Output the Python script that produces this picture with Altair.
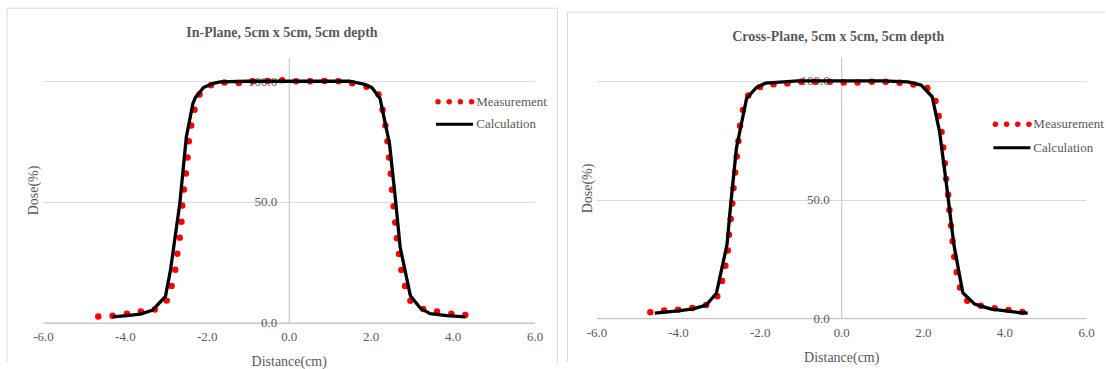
import altair as alt
import pandas as pd

FONT = "Liberation Serif"
GRAY = "#595959"

# ---------------- data ----------------
in_meas_x = [-4.65, -4.30, -3.95, -3.61, -3.27, -2.98, -2.86, -2.77, -2.72, -2.66, -2.62, -2.60,
             -2.56, -2.51, -2.47, -2.44, -2.38, -2.30, -2.18, -1.90, -1.57, -1.22, -0.88, -0.51,
             -0.16, 0.18, 0.52, 0.87, 1.21, 1.55, 1.90, 2.19, 2.29, 2.36, 2.41, 2.45, 2.49, 2.52,
             2.56, 2.60, 2.64, 2.69, 2.75, 2.84, 2.97, 3.28, 3.62, 3.97, 4.31]
in_meas_y = [2.5, 2.8, 3.7, 4.6, 5.4, 9.1, 15.2, 21.9, 28.5, 35.2, 41.8, 48.5,
             55.1, 61.8, 68.4, 75.1, 81.7, 88.2, 94.5, 98.3, 99.5, 99.3, 100.0, 100.1,
             100.4, 100.0, 100.0, 100.1, 100.0, 99.2, 97.7, 94.5, 88.2, 81.7, 75.1, 68.4, 61.7, 55.0,
             48.2, 41.5, 34.9, 28.4, 21.8, 15.2, 9.0, 5.6, 4.6, 3.7, 3.1]
in_calc_x = [-4.30, -3.95, -3.62, -3.33, -3.01, -2.89, -2.66, -2.50, -2.34, -2.28, -2.08, -1.87,
             -1.67, -1.00, 0.00, 1.00, 1.50, 1.83, 2.03, 2.23, 2.46, 2.60, 2.72, 2.97, 3.21,
             3.45, 3.86, 4.31]
in_calc_y = [2.4, 2.9, 3.5, 5.1, 10.8, 21.4, 49.2, 76.9, 90.7, 93.2, 97.4, 99.0,
             99.7, 100.0, 100.0, 100.0, 100.0, 98.8, 97.4, 92.8, 74.1, 51.9, 31.2, 11.1, 6.0,
             3.7, 2.9, 2.4]

cross_meas_x = [-4.68, -4.34, -4.00, -3.65, -3.31, -3.04, -2.92, -2.84, -2.78, -2.75, -2.71, -2.67,
                -2.64, -2.60, -2.56, -2.52, -2.48, -2.41, -2.28, -1.99, -1.66, -1.32, -0.98, -0.64,
                -0.28, 0.06, 0.40, 0.75, 1.09, 1.43, 1.77, 2.11, 2.31, 2.39, 2.46, 2.50, 2.54, 2.57,
                2.62, 2.65, 2.69, 2.73, 2.77, 2.83, 2.91, 3.09, 3.42, 3.76, 4.10, 4.44]
cross_meas_y = [2.5, 3.2, 3.6, 4.3, 5.6, 9.2, 15.7, 22.1, 28.5, 35.2, 41.8, 48.3,
                54.8, 61.4, 68.1, 74.7, 81.1, 87.7, 93.8, 97.4, 98.6, 98.9, 99.6, 99.6,
                99.6, 99.3, 99.3, 99.6, 99.6, 99.2, 98.5, 97.0, 91.5, 85.2, 78.5, 71.9, 65.3, 58.7,
                52.0, 45.6, 39.0, 32.4, 25.9, 19.4, 12.9, 7.3, 5.2, 4.2, 3.5, 2.6]
cross_calc_x = [-4.57, -4.00, -3.63, -3.31, -3.06, -2.80, -2.71, -2.57, -2.32, -2.08, -1.86,
                -1.06, 0.00, 1.00, 1.63, 1.80, 1.96, 2.23, 2.41, 2.57, 2.76, 2.98, 3.27, 3.68,
                4.33, 4.57]
cross_calc_y = [2.1, 3.1, 3.9, 5.5, 10.5, 31.0, 47.8, 71.6, 92.6, 97.2, 99.0,
                100.0, 100.0, 100.0, 99.6, 98.9, 98.2, 93.3, 78.6, 57.6, 31.1, 10.7, 5.9, 3.8,
                2.4, 2.1]

x_ticks = [-6, -4, -2, 0, 2, 4, 6]
y_ticks = [0, 50, 100]
series_names = ["Measurement", "Calculation"]


def panel(title, mx, my, cx, cy, W, H, g):
    dummy = pd.DataFrame({"k": [0]})
    xs = alt.Scale(domain=[-6, 6], nice=False, zero=False)
    ys = alt.Scale(domain=[0, 110], nice=False, zero=True)
    xaxis = alt.Axis(
        values=x_ticks,
        labelExpr="(datum.value < 0 ? '-' : '') + format(abs(datum.value), '.1f')",
        grid=False, ticks=False, domainColor="#bfbfbf", domainWidth=1,
        labelFont=FONT, labelFontSize=13, labelColor=GRAY, labelPadding=8, labelFlush=False,
        title="Distance(cm)", titleFont=FONT, titleFontSize=14, titleFontWeight="normal",
        titleColor=GRAY, titleX=W / 2, titleY=g["xtitle_y"], titleBaseline="middle",
        titleAlign="center",
    )
    yaxis = alt.Axis(
        values=y_ticks, labelExpr="format(datum.value, '.1f')",
        grid=True, gridColor="#d9d9d9", gridWidth=1, ticks=False,
        domainColor="#bfbfbf", domainWidth=1, offset=-W / 2,
        labelFont=FONT, labelFontSize=13, labelColor=GRAY, labelPadding=12, labelFlush=False,
        title="Dose(%)", titleFont=FONT, titleFontSize=14, titleFontWeight="normal",
        titleColor=GRAY, titleX=g["ytitle_x"], titleY=g["ytitle_y"], titleAngle=270,
        titleBaseline="middle", titleAlign="center",
    )
    ex = alt.X("x:Q", scale=xs, axis=xaxis)
    ey = alt.Y("y:Q", scale=ys, axis=yaxis)

    layers = []
    # frame of the panel
    fx1, fx2, fy1, fy2 = g["frame"]
    layers.append(alt.Chart(dummy).mark_rule(color="#d9d9d9", strokeWidth=1).encode(
        x=alt.value(fx1), x2=alt.value(fx2), y=alt.value(fy1), y2=alt.value(fy1)))
    layers.append(alt.Chart(dummy).mark_rule(color="#d9d9d9", strokeWidth=1).encode(
        x=alt.value(fx1), x2=alt.value(fx1), y=alt.value(fy1), y2=alt.value(fy2)))
    if g.get("frame_right", True):
        layers.append(alt.Chart(dummy).mark_rule(color="#d9d9d9", strokeWidth=1).encode(
            x=alt.value(fx2), x2=alt.value(fx2), y=alt.value(fy1), y2=alt.value(fy2)))

    meas = pd.DataFrame({"x": mx, "y": my})
    calc = pd.DataFrame({"x": cx, "y": cy})
    layers.append(alt.Chart(meas).mark_circle(color="#ff0000", size=42, opacity=1).encode(x=ex, y=ey))
    layers.append(alt.Chart(calc).mark_line(color="#000000", strokeWidth=3.3,
                                            strokeJoin="round").encode(x=ex, y=ey))

    # legend
    lx, ly1, ly2, tx = g["legend"]
    for i in range(4):
        layers.append(alt.Chart(dummy).mark_circle(color="#ff0000", size=30, opacity=1).encode(
            x=alt.value(lx + 2 + i * 11.2), y=alt.value(ly1)))
    layers.append(alt.Chart(dummy).mark_rule(color="#000000", strokeWidth=3).encode(
        x=alt.value(lx), x2=alt.value(lx + 37), y=alt.value(ly2), y2=alt.value(ly2)))
    for name, yy in zip(series_names, [ly1, ly2]):
        layers.append(alt.Chart(dummy).mark_text(
            text=name, align="left", baseline="middle", font=FONT, fontSize=13, color=GRAY
        ).encode(x=alt.value(tx), y=alt.value(yy)))

    # chart title
    layers.append(alt.Chart(dummy).mark_text(
        text=title, align="center", baseline="middle", font=FONT, fontSize=14,
        fontWeight="bold", color=GRAY
    ).encode(x=alt.value(g["title_x"]), y=alt.value(g["title_y"])))

    return alt.layer(*layers).properties(width=W, height=H)


left = panel("In-Plane, 5cm x 5cm, 5cm depth", in_meas_x, in_meas_y, in_calc_x, in_calc_y,
             492, 265.7,
             dict(xtitle_y=39, ytitle_x=-255.5, ytitle_y=133,
                  frame=(-36, 515, -49, 305), legend=(393.4, 44.7, 67.3, 433.7),
                  title_x=239.2, title_y=-24))
right = panel("Cross-Plane, 5cm x 5cm, 5cm depth", cross_meas_x, cross_meas_y, cross_calc_x,
              cross_calc_y, 490, 261.3,
              dict(xtitle_y=39.7, ytitle_x=-254, ytitle_y=131,
                   frame=(-29, 509, -45, 305), frame_right=False,
                   legend=(397.3, 67.3, 90.7, 437.3),
                   title_x=242, title_y=-20))

chart = alt.hconcat(left, right, spacing=8).properties(
    padding={"left": 6, "top": 7, "right": 0, "bottom": 0},
    background="white",
).configure_view(stroke=None)

chart.save("out.html", embed_options={"renderer": "svg", "actions": False})
